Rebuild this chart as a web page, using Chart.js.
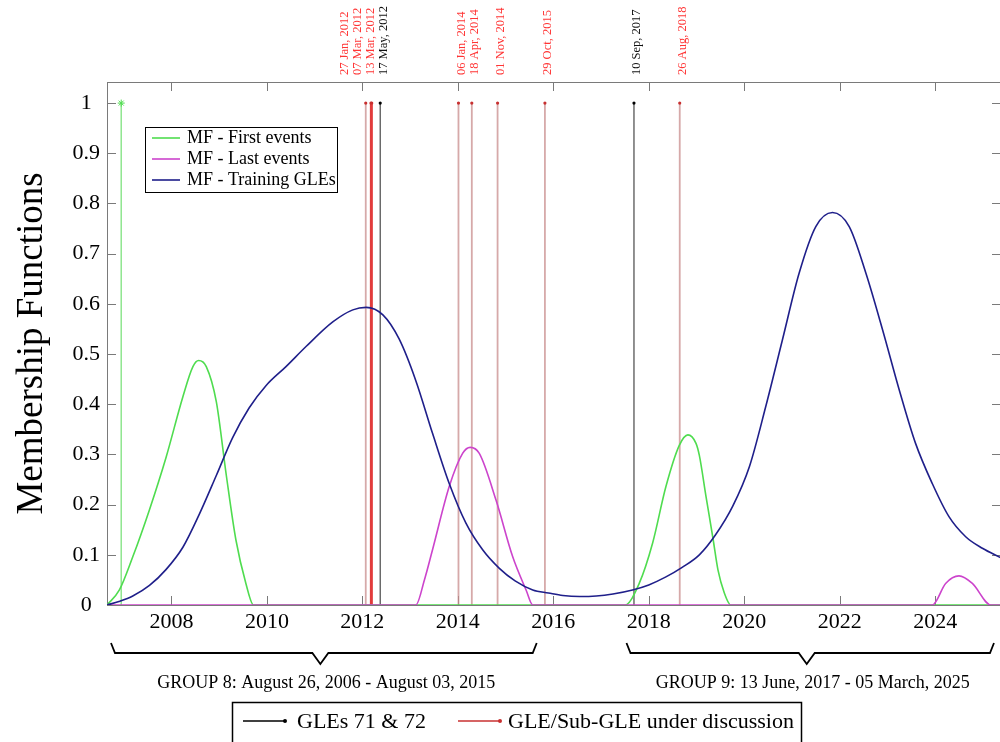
<!DOCTYPE html>
<html>
<head>
<meta charset="utf-8">
<script src="https://cdn.jsdelivr.net/npm/chart.js@4.4.1/dist/chart.umd.min.js"></script>
<style>
  html, body { margin: 0; padding: 0; background: #fff; overflow: hidden; }
  #wrap { width: 1010px; height: 742px; }
</style>
</head>
<body>
<div id="wrap"><canvas id="mfChart" width="1010" height="742"></canvas></div>
<script>
// MF - First events
const firstYears = [2006.65, 2006.91, 2007.19, 2007.54, 2007.89, 2008.24, 2008.45, 2008.57, 2008.73, 2008.94,
  2009.15, 2009.35, 2009.56, 2009.72, 2013.0, 2017.5, 2017.8, 2018.08, 2018.36, 2018.64, 2018.82, 2018.99,
  2019.06, 2019.2, 2019.35, 2019.45, 2019.58, 2019.72, 2025.38];
const firstValues = [0, 0.03, 0.096, 0.19, 0.295, 0.415, 0.475, 0.487, 0.475, 0.405,
  0.258, 0.13, 0.043, 0, 0, 0, 0.043, 0.123, 0.236, 0.318, 0.339, 0.322,
  0.298, 0.216, 0.13, 0.07, 0.025, 0, 0];

// MF - Last events
const lastYears = [2006.65, 2013.12, 2013.3, 2013.47, 2013.82, 2014.1, 2014.26, 2014.45, 2014.8, 2015.15,
  2015.43, 2015.57, 2023.94, 2024.22, 2024.5, 2024.78, 2025.17, 2025.38];
const lastValues = [0, 0, 0.05, 0.11, 0.236, 0.302, 0.314, 0.302, 0.209, 0.096,
  0.03, 0, 0, 0.043, 0.058, 0.043, 0, 0];

// MF - Training GLEs
const trainYears = [2006.65, 2006.9, 2007.19, 2007.54, 2007.89, 2008.24, 2008.59, 2008.94, 2009.28, 2009.63,
  2009.98, 2010.4, 2010.82, 2011.38, 2011.8, 2012.08, 2012.43, 2012.77, 2013.12, 2013.47,
  2013.82, 2014.17, 2014.52, 2014.87, 2015.2, 2015.57, 2015.9, 2016.2, 2016.55, 2016.9,
  2017.25, 2017.66, 2018.0, 2018.36, 2018.7, 2019.06, 2019.4, 2019.76, 2020.11, 2020.45,
  2020.8, 2021.15, 2021.5, 2021.85, 2022.2, 2022.55, 2022.9, 2023.25, 2023.59, 2023.94,
  2024.29, 2024.64, 2024.99, 2025.38];
const trainValues = [0, 0.007, 0.018, 0.039, 0.071, 0.115, 0.182, 0.258, 0.333, 0.393,
  0.437, 0.475, 0.515, 0.564, 0.588, 0.593, 0.578, 0.53, 0.447, 0.342,
  0.242, 0.163, 0.11, 0.073, 0.048, 0.03, 0.024, 0.019, 0.017, 0.018,
  0.022, 0.03, 0.04, 0.056, 0.075, 0.1, 0.14, 0.197, 0.276, 0.395,
  0.528, 0.661, 0.754, 0.782, 0.754, 0.661, 0.548, 0.428, 0.322, 0.242,
  0.176, 0.136, 0.113, 0.094];

// event stems (value 1) and their kind
const eventLabels = ["27 Jan, 2012", "07 Mar, 2012", "13 Mar, 2012", "17 May, 2012", "06 Jan, 2014",
  "18 Apr, 2014", "01 Nov, 2014", "29 Oct, 2015", "10 Sep, 2017", "26 Aug, 2018"];
const eventKinds = ["sub", "sub", "sub", "GLE", "sub", "sub", "sub", "sub", "GLE", "sub"];
const gle70Date = "13 Dec, 2006";

// groups under the axis
const groupNames = ["GROUP 8: August 26, 2006 - August 03, 2015", "GROUP 9: 13 June, 2017 - 05 March, 2025"];
const groupStart = [2006.65, 2017.45];
const groupEnd = [2015.59, 2025.17];

const yTicks = [0, 0.1, 0.2, 0.3, 0.4, 0.5, 0.6, 0.7, 0.8, 0.9, 1];
const xMin = 2006.65, xMax = 2025.38;

const MONTHS = ["Jan","Feb","Mar","Apr","May","Jun","Jul","Aug","Sep","Oct","Nov","Dec"];
function decimalYear(s) {
  const [d, m, y] = s.replace(",", "").split(" ");
  const yr = +y;
  const start = Date.UTC(yr, 0, 1), end = Date.UTC(yr + 1, 0, 1);
  const t = Date.UTC(yr, MONTHS.indexOf(m), +d);
  return yr + (t - start) / (end - start);
}
const eventYears = eventLabels.map(decimalYear);
const gle70Year = decimalYear(gle70Date);

const SERIF = '"Liberation Serif", "Times New Roman", serif';
const toXY = (xs, ys) => xs.map((x, i) => ({ x, y: ys[i] }));

const curve = (label, xs, ys, color, order) => ({
  label, data: toXY(xs, ys), borderColor: color, borderWidth: 1.6,
  pointRadius: 0, fill: false, cubicInterpolationMode: "monotone", order
});

const stemSets = eventYears.map((x, i) => {
  const gle = eventKinds[i] === "GLE";
  const close = eventYears.some((v, j) => j !== i && Math.abs(v - x) < 0.05);
  return {
    label: eventLabels[i],
    data: [{ x, y: 0 }, { x, y: 1 }],
    borderColor: gle ? "#555555" : (close ? "#e23c3c" : "rgba(200,140,140,0.75)"),
    borderWidth: gle ? 1.3 : (close ? 2.2 : 1.8),
    pointRadius: [0, 1.6],
    pointBackgroundColor: gle ? "#000" : "#c83030",
    pointBorderWidth: 0,
    order: 5
  };
});

const datasets = [
  curve("MF - First events", firstYears, firstValues, "#4fdc4f", 2),
  curve("MF - Last events", lastYears, lastValues, "#cc44cc", 1),
  curve("MF - Training GLEs", trainYears, trainValues, "#1f1f8a", 0),
  {
    label: "GLE 70",
    data: [{ x: gle70Year, y: 0 }, { x: gle70Year, y: 1 }],
    borderColor: "#8fe68f", borderWidth: 1.5,
    pointStyle: "star", pointRadius: [0, 3.5], pointBorderColor: "#4fdc4f", pointBorderWidth: 1,
    order: 4
  },
  ...stemSets
];

const decorations = {
  id: "decorations",
  beforeDatasetsDraw(chart) {
    const { ctx, chartArea: a, scales: { x, y } } = chart;
    ctx.save();
    ctx.strokeStyle = "#7a7a7a";
    ctx.lineWidth = 1;
    ctx.strokeRect(a.left + 0.5, a.top + 0.5, a.right - a.left, a.bottom - a.top);
    ctx.beginPath();
    x.ticks.forEach(t => {
      const px = Math.round(x.getPixelForValue(t.value)) + 0.5;
      ctx.moveTo(px, a.bottom); ctx.lineTo(px, a.bottom - 9);
      ctx.moveTo(px, a.top); ctx.lineTo(px, a.top + 9);
    });
    y.ticks.forEach(t => {
      const py = Math.round(y.getPixelForValue(t.value)) + 0.5;
      ctx.moveTo(a.left, py); ctx.lineTo(a.left + 9, py);
      ctx.moveTo(a.right, py); ctx.lineTo(a.right - 9, py);
    });
    ctx.stroke();
    ctx.restore();
  },
  afterDraw(chart) {
    const { ctx, chartArea: a, scales: { x } } = chart;
    ctx.save();

    // event date labels above the frame, pushed apart where they crowd
    const px = eventYears.map(v => x.getPixelForValue(v) + 3);
    const pos = px.slice();
    for (let i = pos.length - 2; i >= 0; i--) pos[i] = Math.min(px[i], pos[i + 1] - 13);
    ctx.font = "12.5px " + SERIF;
    ctx.textAlign = "left";
    ctx.textBaseline = "middle";
    eventLabels.forEach((lab, i) => {
      ctx.save();
      ctx.translate(pos[i], a.top - 7);
      ctx.rotate(-Math.PI / 2);
      ctx.fillStyle = eventKinds[i] === "GLE" ? "#111" : "#ff3535";
      ctx.fillText(lab, 0, 0);
      ctx.restore();
    });

    // inner legend
    const lx = 145, ly = 127, lw = 192, lh = 65;
    ctx.fillStyle = "#fff";
    ctx.fillRect(lx, ly, lw, lh);
    ctx.strokeStyle = "#000";
    ctx.lineWidth = 1;
    ctx.strokeRect(lx + 0.5, ly + 0.5, lw, lh);
    ctx.font = "18px " + SERIF;
    ctx.textBaseline = "middle";
    [0, 1, 2].forEach(k => {
      const ds = chart.data.datasets[k];
      const ry = ly + 11 + k * 21;
      ctx.strokeStyle = ds.borderColor;
      ctx.lineWidth = 1.6;
      ctx.beginPath(); ctx.moveTo(lx + 7, ry); ctx.lineTo(lx + 35, ry); ctx.stroke();
      ctx.fillStyle = "#000";
      ctx.fillText(ds.label, lx + 42, ry);
    });

    // group braces and names
    ctx.strokeStyle = "#000";
    ctx.lineWidth = 1.8;
    ctx.fillStyle = "#000";
    ctx.font = "18px " + SERIF;
    ctx.textAlign = "center";
    ctx.textBaseline = "alphabetic";
    groupNames.forEach((name, i) => {
      const x0 = x.getPixelForValue(groupStart[i]);
      const x1 = x.getPixelForValue(groupEnd[i]);
      const xc = (x0 + x1) / 2;
      const yt = 643, yb = 653, tip = 664;
      ctx.beginPath();
      ctx.moveTo(x0 + 4, yt); ctx.lineTo(x0 + 8, yb);
      ctx.lineTo(xc - 8, yb); ctx.lineTo(xc, tip); ctx.lineTo(xc + 8, yb);
      ctx.lineTo(x1 - 1, yb); ctx.lineTo(x1 + 3, yt);
      ctx.stroke();
      ctx.fillText(name, xc + 6, 688);
    });

    // bottom legend
    ctx.lineWidth = 1.5;
    ctx.strokeRect(232.5, 702.5, 569, 50);
    ctx.font = "22px " + SERIF;
    ctx.textAlign = "left";
    ctx.textBaseline = "middle";
    const items = [["GLEs 71 & 72", "#000", "#000", 243, 297], ["GLE/Sub-GLE under discussion", "#c83030", "#c83030", 458, 508]];
    items.forEach(([txt, lineCol, dotCol, x0, tx]) => {
      ctx.strokeStyle = lineCol;
      ctx.lineWidth = 1.3;
      ctx.beginPath(); ctx.moveTo(x0, 721); ctx.lineTo(x0 + 43, 721); ctx.stroke();
      ctx.fillStyle = dotCol;
      ctx.beginPath(); ctx.arc(x0 + 42, 721, 2, 0, Math.PI * 2); ctx.fill();
      ctx.fillStyle = "#000";
      ctx.fillText(txt, tx, 722);
    });
    ctx.restore();
  }
};

new Chart(document.getElementById("mfChart"), {
  type: "line",
  data: { datasets },
  options: {
    responsive: false,
    animation: false,
    devicePixelRatio: 1,
    events: [],
    layout: { padding: { top: 82, right: 9, left: 0, bottom: 0 } },
    plugins: { legend: { display: false }, tooltip: { enabled: false } },
    scales: {
      x: {
        type: "linear",
        min: xMin,
        max: xMax,
        grid: { display: false },
        border: { display: false },
        ticks: {
          stepSize: 2,
          includeBounds: false,
          padding: -4,
          color: "#000",
          font: { family: SERIF, size: 22 },
          callback: v => String(v)
        },
        afterFit: s => { s.height = 137; }
      },
      y: {
        min: 0,
        max: 1.042,
        grid: { display: false },
        border: { display: false },
        afterBuildTicks: s => { s.ticks = yTicks.map(v => ({ value: v })); },
        ticks: {
          padding: -1,
          crossAlign: "center",
          color: "#000",
          font: { family: SERIF, size: 22 },
          callback: v => String(Math.round(v * 10) / 10)
        },
        title: {
          display: true,
          text: "Membership Functions",
          color: "#000",
          font: { family: SERIF, size: 37 },
          padding: { top: 10, bottom: 0 }
        },
        afterFit: s => { s.width = 107; }
      }
    }
  },
  plugins: [decorations]
});
</script>
</body>
</html>
